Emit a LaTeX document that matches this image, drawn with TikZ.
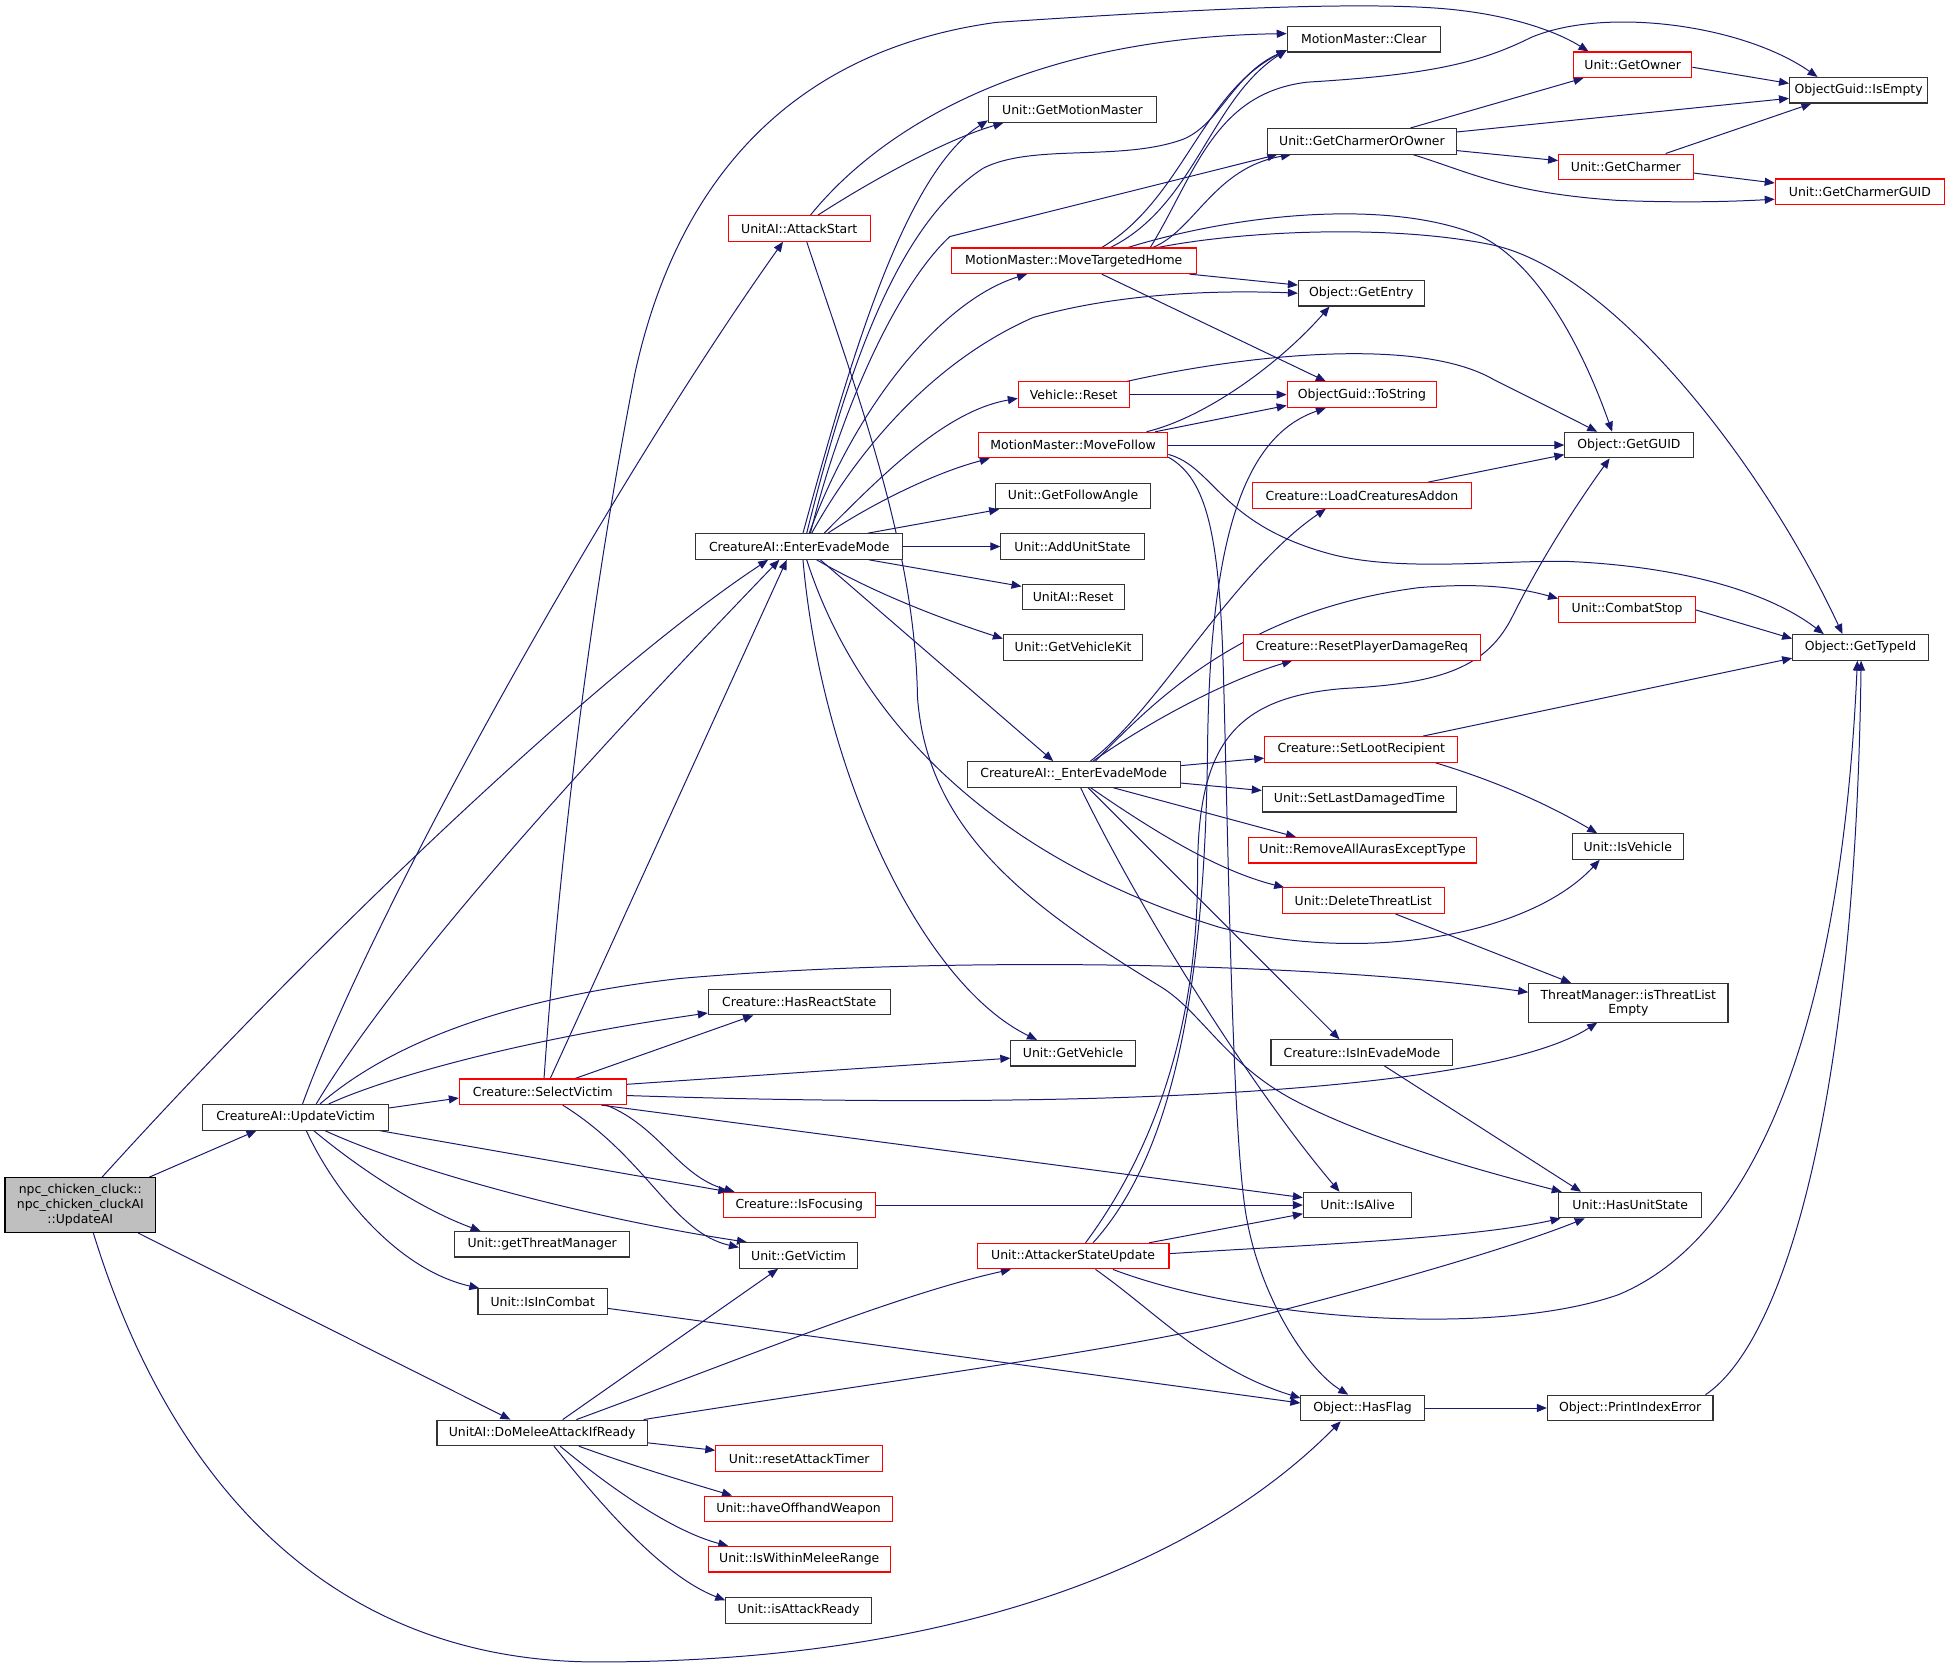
\documentclass[tikz,border=0pt]{standalone}
\usepackage{fontspec}
\setmainfont{DejaVu Sans}
\usetikzlibrary{arrows.meta}
\definecolor{edgec}{HTML}{191970}
\definecolor{rootfill}{HTML}{BFBFBF}
\pgfdeclarelayer{bg}
\pgfsetlayers{bg,main}
\begin{document}
\begin{tikzpicture}[x=1pt,y=-1pt,
  bx/.style={draw=black!80, fill=white, line width=0.9pt, minimum height=20.5pt, inner sep=0pt, font=\fontsize{10}{12}\selectfont},
  rbx/.style={bx, draw=red},
  conn/.style={draw=edgec, line width=0.8pt, -{Triangle[length=8pt,width=6.5pt]}}]
\useasboundingbox (0,0) rectangle (1568,1339);
% nodes
\node[bx, fill=rootfill, draw=black, minimum width=121pt, minimum height=44pt, align=center, font=\fontsize{10}{12}\selectfont] (npc) at (64.5,968) {npc\_chicken\_cluck::\\npc\_chicken\_cluckAI\\::UpdateAI};
\node[bx, minimum width=149pt] (uv) at (237.5,897.5) {CreatureAI::UpdateVictim};
\node[rbx, minimum width=134pt] (sv) at (436,877) {Creature::SelectVictim};
\node[bx, minimum width=146pt] (hrs) at (642,805) {Creature::HasReactState};
\node[bx, minimum width=141pt] (gtm) at (435.5,999.5) {Unit::getThreatManager};
\node[bx, minimum width=104pt] (iic) at (436,1045.5) {Unit::IsInCombat};
\node[bx, minimum width=169pt] (dm) at (435.5,1151) {UnitAI::DoMeleeAttackIfReady};
\node[rbx, minimum width=134pt] (rat) at (642,1171.5) {Unit::resetAttackTimer};
\node[rbx, minimum width=151pt] (how) at (641.5,1212) {Unit::haveOffhandWeapon};
\node[rbx, minimum width=146pt] (iwm) at (642,1252.5) {Unit::IsWithinMeleeRange};
\node[bx, minimum width=117pt] (iar) at (641.5,1293.5) {Unit::isAttackReady};
\node[bx, minimum width=95pt] (gvic) at (641.5,1008.5) {Unit::GetVictim};
\node[rbx, minimum width=122pt] (ifoc) at (642,968) {Creature::IsFocusing};
\node[bx, minimum width=166pt] (eem) at (642,439) {CreatureAI::EnterEvadeMode};
\node[rbx, minimum width=114pt] (as) at (642,183.5) {UnitAI::AttackStart};
\node[bx, minimum width=135pt] (gmm) at (861.5,88) {Unit::GetMotionMaster};
\node[bx, minimum width=123pt] (clr) at (1095.5,31.5) {MotionMaster::Clear};
\node[rbx, minimum width=197pt] (mth) at (862.5,209.5) {MotionMaster::MoveTargetedHome};
\node[rbx, minimum width=89pt] (vr) at (862.5,317) {Vehicle::Reset};
\node[rbx, minimum width=152pt] (mf) at (862,357.5) {MotionMaster::MoveFollow};
\node[bx, minimum width=124pt] (gfa) at (862,398.5) {Unit::GetFollowAngle};
\node[bx, minimum width=115pt] (aus) at (861.5,439) {Unit::AddUnitState};
\node[bx, minimum width=82pt] (uar) at (862,479.5) {UnitAI::Reset};
\node[bx, minimum width=112pt] (gvk) at (862,520) {Unit::GetVehicleKit};
\node[bx, minimum width=171pt] (eem2) at (862.5,622) {CreatureAI::\_EnterEvadeMode};
\node[bx, minimum width=100pt] (gveh) at (862,846) {Unit::GetVehicle};
\node[rbx, minimum width=154pt] (asu) at (862,1009) {Unit::AttackerStateUpdate};
\node[rbx, minimum width=95pt] (gown) at (1311.5,52) {Unit::GetOwner};
\node[bx, minimum width=111pt] (ise) at (1493,72.5) {ObjectGuid::IsEmpty};
\node[bx, minimum width=152pt] (gco) at (1094,113.5) {Unit::GetCharmerOrOwner};
\node[rbx, minimum width=108pt] (gch) at (1306,134) {Unit::GetCharmer};
\node[rbx, minimum width=136pt] (gcg) at (1494,154) {Unit::GetCharmerGUID};
\node[bx, minimum width=101pt] (gent) at (1093.5,235.5) {Object::GetEntry};
\node[rbx, minimum width=120pt] (tos) at (1094,317) {ObjectGuid::ToString};
\node[bx, minimum width=103pt] (guid) at (1308.5,357.5) {Object::GetGUID};
\node[rbx, minimum width=176pt] (lca) at (1094,398) {Creature::LoadCreaturesAddon};
\node[rbx, minimum width=110pt] (cs) at (1307,489.5) {Unit::CombatStop};
\node[bx, minimum width=109pt] (gti) at (1494.5,520) {Object::GetTypeId};
\node[rbx, minimum width=190pt] (rpd) at (1094,520) {Creature::ResetPlayerDamageReq};
\node[rbx, minimum width=155pt] (slr) at (1093.5,602) {Creature::SetLootRecipient};
\node[bx, minimum width=156pt] (sldt) at (1092,642) {Unit::SetLastDamagedTime};
\node[rbx, minimum width=183pt] (raa) at (1094.5,683) {Unit::RemoveAllAurasExceptType};
\node[rbx, minimum width=130pt] (dtl) at (1095,723.5) {Unit::DeleteThreatList};
\node[bx, minimum width=89pt] (isv) at (1307.5,680) {Unit::IsVehicle};
\node[bx, minimum width=160pt, minimum height=31pt, align=center, font=\fontsize{10}{11.5}\selectfont] (tm) at (1308,805.5) {ThreatManager::isThreatList\\Empty};
\node[bx, minimum width=146pt] (iem) at (1094,845.5) {Creature::IsInEvadeMode};
\node[bx, minimum width=87pt] (ia) at (1090.5,968) {Unit::IsAlive};
\node[bx, minimum width=115pt] (hus) at (1309.5,968) {Unit::HasUnitState};
\node[bx, minimum width=99pt] (hf) at (1094.5,1131) {Object::HasFlag};
\node[bx, minimum width=133pt] (pie) at (1309.5,1131) {Object::PrintIndexError};
% edges
\begin{pgfonlayer}{bg}
% root
\draw[conn] ([xshift=55.5pt]npc.north) -- ([xshift=-31.5pt]uv.south);
\draw[conn] ([xshift=17.5pt]npc.north) .. controls (250,760) and (480,540) .. ([xshift=-25pt]eem.south);
\draw[conn] ([xshift=46.5pt]npc.south) -- ([xshift=-25.5pt]dm.north);
\draw[conn] ([xshift=10.5pt]npc.south) .. controls (130,1170) and (250,1335) .. (480,1335) .. controls (760,1335) and (960,1260) .. ([xshift=-17.5pt]hf.south);
% UpdateVictim
\draw[conn] ([xshift=5.5pt]uv.north) .. controls (300,730) and (490,390) .. ([xshift=-13pt]as.south);
\draw[conn] ([xshift=16.5pt]uv.north) .. controls (330,760) and (520,560) .. ([xshift=-16pt]eem.south);
\draw[conn] ([xshift=19.5pt]uv.north) .. controls (300,850) and (380,805) .. (546,786) .. controls (750,768) and (1050,772) .. ([yshift=8.5pt]tm.west);
\draw[conn] ([xshift=26.5pt]uv.north) .. controls (300,870) and (400,838) .. ([yshift=2pt]hrs.south west);
\draw[conn] ([yshift=7.5pt]uv.east) -- ([yshift=-5pt]sv.west);
\draw[conn] ([xshift=67.5pt]uv.south) -- ([xshift=-57pt]ifoc.north);
\draw[conn] ([xshift=23.5pt]uv.south) .. controls (330,940) and (470,978) .. ([xshift=-41.5pt]gvic.north);
\draw[conn] ([xshift=14.5pt]uv.south) .. controls (290,940) and (340,972) .. ([xshift=-49.5pt]gtm.north);
\draw[conn] ([xshift=8.5pt]uv.south) .. controls (270,960) and (320,1020) .. ([xshift=-51pt]iic.north);
% SelectVictim
\draw[conn] ([xshift=6pt]sv.north) -- ([xshift=-10pt]eem.south);
\draw[conn] ([xshift=1pt]sv.north) .. controls (450,680) and (475,480) .. (510,300) .. controls (545,140) and (640,40) .. (800,18) .. controls (950,8) and (1100,0) .. (1170,8) .. controls (1215,13) and (1250,25) .. ([xshift=-35.5pt]gown.north);
\draw[conn] ([xshift=26pt]sv.north) -- ([xshift=-37pt]hrs.south);
\draw[conn] ([yshift=6pt]sv.east) -- ([yshift=-4pt]gveh.west);
\draw[conn] ([yshift=-3pt]sv.east) .. controls (900,893) and (1200,875) .. ([xshift=-25pt]tm.south);
\draw[conn] ([xshift=47pt]sv.south) -- ([yshift=6pt]ia.west);
\draw[conn] ([xshift=51pt]sv.south) .. controls (530,905) and (545,945) .. ([xshift=-52pt]ifoc.north);
\draw[conn] ([xshift=16pt]sv.south) .. controls (520,930) and (540,990) .. ([yshift=6.5pt]gvic.west);
% AttackStart
\draw[conn] ([xshift=9pt]as.north) .. controls (710,100) and (830,30) .. ([yshift=4.5pt]clr.west);
\draw[conn] ([xshift=15pt]as.north) .. controls (700,145) and (760,112) .. ([xshift=-55.5pt]gmm.south);
\draw[conn] ([xshift=6pt]as.south) .. controls (690,320) and (735,440) .. (737,560) .. controls (745,670) and (830,730) .. (933,793) .. controls (965,813) and (985,855) .. (1040,884) .. controls (1100,915) and (1180,938) .. ([xshift=-55pt]hus.north);
% EnterEvadeMode
\draw[conn] ([xshift=3pt]eem.north) .. controls (680,300) and (725,140) .. ([yshift=2pt]gmm.south west);
\draw[conn] ([xshift=6pt]eem.north) .. controls (680,300) and (720,180) .. (790,135) .. controls (830,115) and (900,130) .. (950,112) .. controls (980,100) and (990,60) .. ([yshift=2pt]clr.south west);
\draw[conn] ([xshift=9pt]eem.north) .. controls (675,330) and (720,230) .. (763,190) -- ([xshift=-68pt]gco.south);
\draw[conn] ([xshift=8pt]eem.north) .. controls (690,320) and (760,240) .. ([xshift=-37.5pt]mth.south);
\draw[conn] ([xshift=10pt]eem.north) .. controls (690,360) and (750,290) .. (830,255) .. controls (900,235) and (980,233) .. (gent.west);
\draw[conn] ([xshift=20pt]eem.north) .. controls (710,380) and (760,330) .. ([yshift=-3pt]vr.west);
\draw[conn] ([xshift=23pt]eem.north) .. controls (700,405) and (750,380) .. ([xshift=-67pt]mf.south);
\draw[conn] ([xshift=55pt]eem.north) -- ([xshift=3pt]gfa.south west);
\draw[conn] (eem.east) -- (aus.west);
\draw[conn] ([xshift=56pt]eem.south) -- ([yshift=8.5pt]uar.west);
\draw[conn] ([xshift=14pt]eem.south) .. controls (700,475) and (750,495) .. ([yshift=7pt]gvk.west);
\draw[conn] ([xshift=17pt]eem.south) -- ([xshift=-16.5pt]eem2.north);
\draw[conn] ([xshift=3pt]eem.south) .. controls (660,620) and (740,790) .. ([xshift=-29pt]gveh.north);
\draw[conn] ([xshift=6pt]eem.south) .. controls (690,580) and (800,690) .. (980,745) .. controls (1100,775) and (1230,750) .. ([xshift=-22.5pt]isv.south);
% MoveTargetedHome
\draw[conn] ([xshift=22.5pt]mth.north) .. controls (950,160) and (965,75) .. ([yshift=2pt]clr.south west);
\draw[conn] ([xshift=29.5pt]mth.north) .. controls (960,165) and (972,80) .. ([yshift=2pt]clr.south west);
\draw[conn] ([xshift=61.5pt]mth.north) .. controls (960,140) and (975,75) .. (1050,66) .. controls (1150,60) and (1190,50) .. (1230,30) .. controls (1290,5) and (1400,20) .. ([xshift=-33pt]ise.north);
\draw[conn] ([xshift=63.5pt]mth.north) .. controls (960,185) and (975,135) .. ([xshift=-57pt]gco.south);
\draw[conn] ([xshift=43.5pt]mth.north) .. controls (1000,170) and (1120,160) .. (1190,190) .. controls (1240,215) and (1275,290) .. ([xshift=-13.5pt]guid.north);
\draw[conn] ([xshift=67.5pt]mth.north) .. controls (1000,185) and (1120,180) .. (1200,197) .. controls (1300,220) and (1420,380) .. ([xshift=-14.5pt]gti.north);
\draw[conn] ([xshift=-6pt]mth.south east) -- ([yshift=6.5pt]gent.west);
\draw[conn] ([xshift=22.5pt]mth.south) -- ([xshift=-29pt]tos.north);
% Vehicle::Reset
\draw[conn] (vr.east) -- (tos.west);
\draw[conn] ([xshift=-2pt]vr.north east) .. controls (1000,285) and (1140,270) .. (1200,305) .. controls (1230,320) and (1260,335) .. ([xshift=-25.5pt]guid.north);
% MoveFollow
\draw[conn] ([xshift=59pt]mf.north) .. controls (970,335) and (1030,290) .. ([xshift=-25.5pt]gent.south);
\draw[conn] ([xshift=66pt]mf.north) -- ([yshift=2pt]tos.south west);
\draw[conn] (mf.east) -- (guid.west);
\draw[conn] ([yshift=-7.5pt]mf.east) .. controls (975,375) and (980,420) .. (1065,444) .. controls (1120,460) and (1200,450) .. (1260,451) .. controls (1350,455) and (1420,475) .. ([xshift=-29.5pt]gti.north);
\draw[conn] ([yshift=1pt]mf.south east) .. controls (970,385) and (980,430) .. (983,550) .. controls (987,700) and (990,900) .. (1000,970) .. controls (1010,1040) and (1050,1100) .. ([xshift=-11.5pt]hf.north);
% AttackerStateUpdate
\draw[conn] ([xshift=16pt]asu.north) .. controls (940,930) and (968,800) .. (970,600) .. controls (972,430) and (1000,350) .. ([xshift=-29pt]tos.south);
\draw[conn] ([xshift=10pt]asu.north) .. controls (930,920) and (962,820) .. (962,700) .. controls (962,600) and (990,560) .. (1080,553) .. controls (1160,549) and (1195,535) .. (1215,495) .. controls (1240,445) and (1270,400) .. ([xshift=-15.5pt]guid.south);
\draw[conn] ([xshift=61pt]asu.north) -- ([yshift=-7pt]ia.west);
\draw[conn] ([yshift=2pt]asu.east) .. controls (1050,1000) and (1180,995) .. ([xshift=2pt]hus.south west);
\draw[conn] ([xshift=18pt]asu.south) .. controls (930,1055) and (970,1100) .. ([yshift=8pt]hf.west);
\draw[conn] ([xshift=32pt]asu.south) .. controls (1000,1060) and (1200,1075) .. (1300,1040) .. controls (1420,990) and (1480,800) .. ([xshift=-2.5pt]gti.south);
% PrintIndexError
\draw[conn] ([xshift=60.5pt]pie.north) .. controls (1430,1080) and (1490,900) .. ([xshift=0.5pt]gti.south);
% _EnterEvadeMode
\draw[conn] ([xshift=13.5pt]eem2.north) .. controls (930,570) and (990,460) .. ([xshift=-29pt]lca.south);
\draw[conn] ([xshift=15.5pt]eem2.north) .. controls (930,575) and (990,545) .. ([xshift=-56pt]rpd.south);
\draw[conn] ([xshift=17.5pt]eem2.north) .. controls (930,560) and (1000,490) .. (1140,472) .. controls (1190,468) and (1220,472) .. ([yshift=-2pt]cs.north west);
\draw[conn] ([yshift=7pt]eem2.east) -- ([yshift=-7pt]slr.west);
\draw[conn] ([yshift=-7pt]eem2.east) -- ([yshift=7pt]sldt.west);
\draw[conn] ([xshift=31.5pt]eem2.south) -- ([xshift=-53.5pt]raa.north);
\draw[conn] ([xshift=13.5pt]eem2.south) .. controls (930,670) and (980,700) .. ([xshift=2pt]dtl.north west);
\draw[conn] ([xshift=11.5pt]eem2.south) -- ([xshift=-18pt]iem.north);
\draw[conn] ([xshift=5.5pt]eem2.south) .. controls (920,740) and (1010,880) .. ([xshift=-14.5pt]ia.north);
% others
\draw[conn] ([xshift=18pt]iem.south) -- ([xshift=-39.5pt]hus.north);
\draw[conn] ([xshift=26pt]dtl.south) -- ([xshift=-46pt]tm.north);
\draw[conn] ([xshift=59.5pt]slr.south) .. controls (1210,630) and (1250,650) .. ([xshift=-24.5pt]isv.north);
\draw[conn] ([xshift=49.5pt]slr.north) -- ([yshift=2pt]gti.south west);
\draw[conn] ([yshift=-0.5pt]cs.east) -- ([yshift=7pt]gti.west);
\draw[conn] ([xshift=53pt]lca.north) -- ([yshift=3pt]guid.south west);
\draw[conn] ([xshift=39pt]gco.north) -- ([xshift=-39.5pt]gown.south);
\draw[conn] ([yshift=7.5pt]gco.east) -- ([yshift=-6.5pt]ise.west);
\draw[conn] ([yshift=-7.5pt]gco.east) -- ([yshift=5pt]gch.west);
\draw[conn] ([xshift=41pt]gco.south) .. controls (1180,138) and (1210,155) .. (1300,161) .. controls (1350,163) and (1390,162) .. ([yshift=-6pt]gcg.west);
\draw[conn] ([yshift=-2pt]gown.east) -- ([yshift=5.5pt]ise.west);
\draw[conn] ([xshift=32pt]gch.north) -- ([xshift=-38pt]ise.south);
\draw[conn] ([yshift=-5pt]gch.east) -- ([yshift=7pt]gcg.west);
\draw[conn] (hf.east) -- (pie.west);
% DoMeleeAttackIfReady
\draw[conn] ([xshift=16.5pt]dm.north) -- ([xshift=-16.5pt]gvic.south);
\draw[conn] ([xshift=27.5pt]dm.north) .. controls (600,1090) and (720,1040) .. ([xshift=-50pt]asu.south);
\draw[conn] ([xshift=81.5pt]dm.north) .. controls (700,1111) and (900,1085) .. (1000,1060) .. controls (1120,1030) and (1220,1000) .. ([xshift=-36.5pt]hus.south);
\draw[conn] ([yshift=-8pt]dm.east) -- ([yshift=6.5pt]rat.west);
\draw[conn] ([xshift=29.5pt]dm.south) .. controls (510,1178) and (550,1190) .. ([xshift=-53.5pt]how.north);
\draw[conn] ([xshift=14.5pt]dm.south) .. controls (490,1195) and (540,1230) .. ([xshift=-57pt]iwm.north);
\draw[conn] ([xshift=9.5pt]dm.south) .. controls (480,1205) and (530,1265) .. ([yshift=8pt]iar.west);
\draw[conn] ([yshift=-5.5pt]iic.east) -- ([yshift=4pt]hf.west);
\draw[conn] (ifoc.east) -- (ia.west);
\end{pgfonlayer}
\end{tikzpicture}
\end{document}
